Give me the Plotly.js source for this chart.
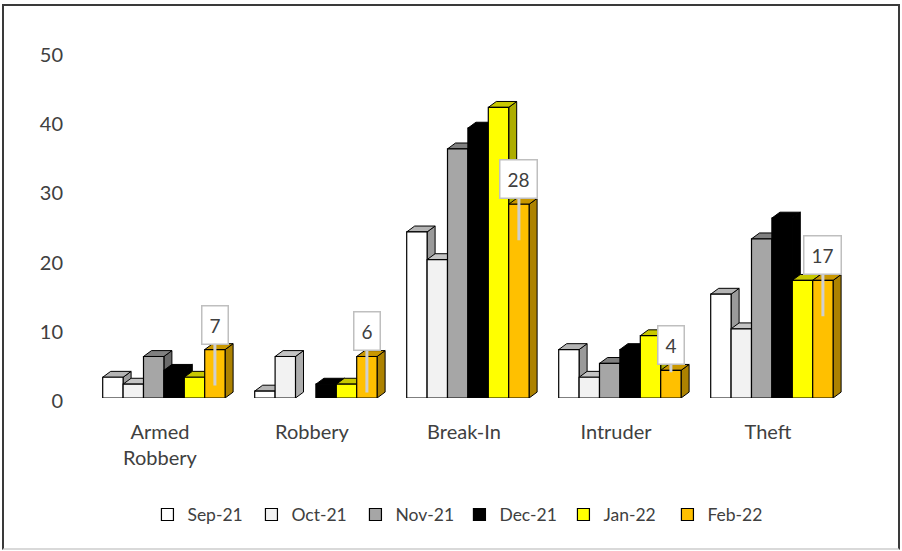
<!DOCTYPE html>
<html>
<head>
<meta charset="utf-8">
<script src="https://cdn.plot.ly/plotly-3.0.1.min.js"></script>
<style>
  html, body { margin: 0; padding: 0; background: #ffffff; }
  #wrap { position: relative; width: 902px; height: 551px; }
  #chart { position: absolute; left: 0; top: 0; width: 902px; height: 551px; }
  #frame { position: absolute; left: 2px; top: 4px; width: 894px; height: 542px;
           border-top: 2px solid #3a3a3a; border-left: 2px solid #3a3a3a; border-right: 2px solid #3a3a3a;
           border-bottom: 2px solid #d9d9d9; pointer-events: none; }
</style>
</head>
<body>
<div id="wrap">
  <div id="chart"></div>
  <div id="frame"></div>
</div>
<script>
// ---- data ----
const categories = ['Armed Robbery', 'Robbery', 'Break-In', 'Intruder', 'Theft'];
const tickLabels = ['Armed<br>Robbery', 'Robbery', 'Break-In', 'Intruder', 'Theft'];
const seriesNames = ['Sep-21', 'Oct-21', 'Nov-21', 'Dec-21', 'Jan-22', 'Feb-22'];
const sep21 = [3, 1, 24, 7, 15];
const oct21 = [2, 6, 20, 3, 10];
const nov21 = [6, 0, 36, 5, 23];
const dec21 = [4, 2, 39, 7, 26];
const jan22 = [3, 2, 42, 9, 17];
const feb22 = [7, 6, 28, 4, 17];
const yTicks = [0, 10, 20, 30, 40, 50];

// ---- styling ----
const seriesValues = [sep21, oct21, nov21, dec21, jan22, feb22];
const frontColors = ['#ffffff', '#f2f2f2', '#a6a6a6', '#000000', '#ffff00', '#ffc000'];
const topColors   = ['#b4b4b4', '#c4c4c4', '#808080', '#000000', '#c8c800', '#c99700'];
const sideColors  = ['#9a9a9a', '#adadad', '#6a6a6a', '#000000', '#adad00', '#ad8200'];
const textColor = '#404040';
const font = 'Lato, "Open Sans", sans-serif';

const catIdx = categories.map((c, k) => k);
const catPx = 152;           // pixels per category
const barW = 20.4 / catPx;   // bar width in category units
const firstOffset = -57.3 / catPx;
const depthX = 8 / catPx;    // 3D depth, horizontal (category units)
const depthY = 0.85;         // 3D depth, vertical (value units)

const faceTraces = [];
const barTraces = [];
seriesValues.forEach((vals, i) => {
  const off = firstOffset + i * barW;
  const tx = [], ty = [], sx = [], sy = [];
  vals.forEach((v, k) => {
    if (!v) return;
    const l = catIdx[k] + off, r = l + barW;
    tx.push(l, r, r + depthX, l + depthX, l, null);
    ty.push(v, v, v + depthY, v + depthY, v, null);
    sx.push(r, r + depthX, r + depthX, r, r, null);
    sy.push(0, depthY, v + depthY, v, 0, null);
  });
  faceTraces.push({
    type: 'scatter', mode: 'lines', x: sx, y: sy, fill: 'toself',
    fillcolor: sideColors[i], line: { color: '#000000', width: 1 },
    xaxis: 'x', yaxis: 'y', showlegend: false, hoverinfo: 'skip'
  });
  faceTraces.push({
    type: 'scatter', mode: 'lines', x: tx, y: ty, fill: 'toself',
    fillcolor: topColors[i], line: { color: '#000000', width: 1 },
    xaxis: 'x', yaxis: 'y', showlegend: false, hoverinfo: 'skip'
  });
  barTraces.push({
    type: 'bar', name: seriesNames[i], x: catIdx, y: vals.map(v => (v === 0 ? null : v)),
    offset: off, width: barW,
    marker: { color: frontColors[i], line: { color: '#000000', width: 1.2 } },
    xaxis: 'x2', yaxis: 'y2', showlegend: true
  });
});

// data labels (callouts) for the last series
const labelSeries = feb22;
const labelXShift = (firstOffset + 5 * barW + barW / 2) * catPx;
const annotations = catIdx.map((c, k) => {
  const v = labelSeries[k];
  const tail = v >= 6 ? 36 : 2;
  return {
    x: c, y: v, xref: 'x', yref: 'y',
    xshift: labelXShift, yshift: -tail,
    ax: 0, ay: -(tail + 25),
    text: String(v),
    showarrow: true, arrowhead: 0, arrowwidth: 3, arrowcolor: '#cfcfcf',
    bgcolor: '#ffffff', bordercolor: '#bfbfbf', borderwidth: 1.5, borderpad: 7,
    font: { family: font, size: 19, color: textColor }
  };
});

const xRange = [-0.5, 4.5];
const yRange = [0, 50];
const layout = {
  width: 902, height: 551,
  margin: { l: 84, r: 58, t: 52, b: 152.5, autoexpand: false },
  paper_bgcolor: '#ffffff', plot_bgcolor: '#ffffff',
  barmode: 'overlay',
  font: { family: font, size: 18, color: textColor },
  xaxis: {
    range: xRange, tickvals: catIdx, ticktext: tickLabels,
    showgrid: false, zeroline: false, showline: false, ticks: '',
    ticklabelstandoff: 20,
    tickfont: { family: font, size: 20, color: textColor }
  },
  yaxis: {
    range: yRange, tickvals: yTicks,
    showgrid: false, zeroline: false, showline: false, ticks: '',
    ticklabelstandoff: 20, ticklabelshift: 3,
    tickfont: { family: font, size: 20, color: textColor }
  },
  xaxis2: { overlaying: 'x', range: xRange, visible: false },
  yaxis2: { overlaying: 'y', range: yRange, visible: false },
  legend: {
    orientation: 'h', x: 0.494, xanchor: 'center', y: -0.285, yanchor: 'top',
    entrywidth: 59, itemwidth: 30, traceorder: 'normal',
    font: { family: font, size: 17.5, color: textColor }
  },
  annotations: annotations,
  showlegend: true
};

Plotly.newPlot('chart', faceTraces.concat(barTraces), layout, { displayModeBar: false, staticPlot: true });
</script>
</body>
</html>
